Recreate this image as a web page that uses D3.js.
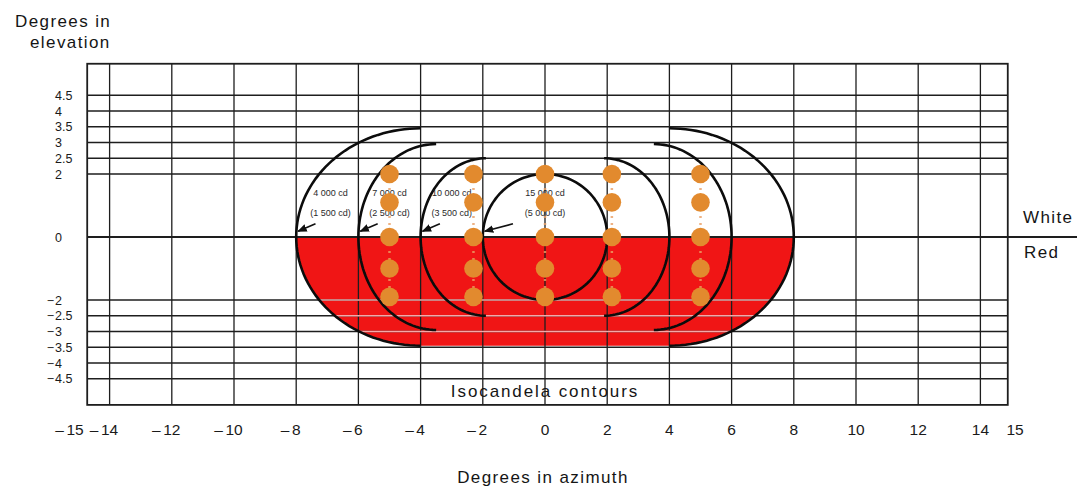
<!DOCTYPE html>
<html>
<head>
<meta charset="utf-8">
<script src="https://cdn.jsdelivr.net/npm/d3@7"></script>
<style>
  body { margin: 0; background: #fff; }
  svg { display: block; font-family: "Liberation Sans", Arial, sans-serif; }
</style>
</head>
<body>
<div id="chart"></div>
<script>
// chart data
var azimuthTicks = [-15, -14, -12, -10, -8, -6, -4, -2, 0, 2, 4, 6, 8, 10, 12, 14, 15];
var azimuthGrid = [-14, -12, -10, -8, -6, -4, -2, 0, 2, 4, 6, 8, 10, 12, 14];
var elevationTicks = [4.5, 4, 3.5, 3, 2.5, 2, 0, -2, -2.5, -3, -3.5, -4, -4.5];

// isocandela contours: white intensity, red intensity, half-shape centre and radii (degrees)
var whiteLevels = ["4 000 cd", "7 000 cd", "10 000 cd", "15 000 cd"];
var redLevels = ["(1 500 cd)", "(2 500 cd)", "(3 500 cd)", "(5 000 cd)"];
var contourCentre = [4, 3.5, 1.9, 0];
var contourRx = [4, 2.5, 2.1, 2];
var contourRy = [3.45, 2.95, 2.5, 2];
var labelAzimuth = [-6.9, -5.0, -3.0, 0];

// measuring points (orange dots)
var dotAzimuth = [-5, -2.3, 0, 2.15, 5];
var dotElevation = [2, 1.1, 0, -1, -1.9];

var svgWidth = 1077;
var svgHeight = 488;

var svg = d3.select("#chart")
  .append("svg")
  .attr("width", svgWidth)
  .attr("height", svgHeight);

// scales (degrees -> pixels)
var x = d3.scaleLinear().domain([-15, 15]).range([78.5, 1011.5]);
var y = d3.scaleLinear().domain([-5.5, 5.5]).range([410.25, 63.75]);

var frame = { left: -14.72, right: 14.88, top: 5.5, bottom: -5.33 };

var line = d3.line().x(d => x(d[0])).y(d => y(d[1]));

// half of a contour: side -1 = left arc, +1 = right arc
function halfArc(i, side, t0, t1) {
  return d3.range(0, 73).map(function(k) {
    var t = t0 + (t1 - t0) * k / 72;
    return [side * (contourCentre[i] + contourRx[i] * Math.cos(t)), contourRy[i] * Math.sin(t)];
  });
}

// red sector = lower half of the outer contour
var redPts = halfArc(0, -1, 0, -Math.PI / 2).concat(halfArc(0, 1, -Math.PI / 2, 0));

var defs = svg.append("defs");
defs.append("clipPath").attr("id", "redClip")
  .append("path").attr("d", line(redPts) + "Z");
defs.append("marker")
  .attr("id", "arrow")
  .attr("viewBox", "0 0 10 10")
  .attr("refX", 9).attr("refY", 5)
  .attr("markerWidth", 6).attr("markerHeight", 6)
  .attr("orient", "auto")
  .append("path").attr("d", "M0,1 L10,5 L0,9 Z").attr("fill", "#111");

svg.append("path")
  .attr("d", line(redPts) + "Z")
  .attr("fill", "#f01515");

// grid
var grid = svg.append("g").attr("stroke", "#1e1e1e");

grid.selectAll(".vline")
  .data(azimuthGrid)
  .enter()
  .append("line")
  .attr("x1", d => x(d)).attr("x2", d => x(d))
  .attr("y1", y(frame.top)).attr("y2", y(frame.bottom))
  .attr("stroke-width", 1.3);

grid.selectAll(".hline")
  .data(elevationTicks)
  .enter()
  .append("line")
  .attr("x1", x(frame.left))
  .attr("x2", d => d === 0 ? svgWidth : x(frame.right))
  .attr("y1", d => y(d)).attr("y2", d => y(d))
  .attr("stroke-width", d => d === 0 ? 2 : 1.4);

// grid lines show pale through the red
svg.append("g")
  .attr("clip-path", "url(#redClip)")
  .selectAll("line")
  .data(elevationTicks.filter(d => d < 0))
  .enter()
  .append("line")
  .attr("x1", x(frame.left)).attr("x2", x(frame.right))
  .attr("y1", d => y(d)).attr("y2", d => y(d))
  .attr("stroke", "#f4a9a9")
  .attr("stroke-width", 1.6);

svg.append("rect")
  .attr("x", x(frame.left))
  .attr("y", y(frame.top))
  .attr("width", x(frame.right) - x(frame.left))
  .attr("height", y(frame.bottom) - y(frame.top))
  .attr("fill", "none")
  .attr("stroke", "#1e1e1e")
  .attr("stroke-width", 1.8);

// contour arcs
var arcs = svg.append("g")
  .attr("fill", "none")
  .attr("stroke", "#0c0c0c")
  .attr("stroke-width", 2.6);

whiteLevels.forEach(function(level, i) {
  arcs.append("path").attr("d", line(halfArc(i, -1, -Math.PI / 2, Math.PI / 2)));
  arcs.append("path").attr("d", line(halfArc(i, 1, -Math.PI / 2, Math.PI / 2)));
});

// contour labels
var labels = svg.append("g")
  .attr("font-size", 9)
  .attr("fill", "#2a2a2a")
  .attr("text-anchor", "middle");

labels.selectAll(".white")
  .data(whiteLevels)
  .enter()
  .append("text")
  .attr("x", (d, i) => x(labelAzimuth[i]))
  .attr("y", y(1.4) + 3)
  .text(d => d);

labels.selectAll(".red")
  .data(redLevels)
  .enter()
  .append("text")
  .attr("x", (d, i) => x(labelAzimuth[i]))
  .attr("y", y(0.76) + 3)
  .text(d => d);

// arrows from the labels to the left arcs
svg.append("g")
  .selectAll("line")
  .data(whiteLevels)
  .enter()
  .append("line")
  .attr("x1", (d, i) => x(-(contourCentre[i] + contourRx[i]) + 0.62 + (i === 3 ? 0.35 : 0)))
  .attr("y1", y(0.42))
  .attr("x2", (d, i) => x(-(contourCentre[i] + contourRx[i]) + 0.06))
  .attr("y2", y(0.18))
  .attr("stroke", "#111")
  .attr("stroke-width", 1.6)
  .attr("marker-end", "url(#arrow)");

// measuring points
var dots = svg.append("g");

dots.selectAll(".stem")
  .data(dotAzimuth)
  .enter()
  .append("line")
  .attr("x1", d => x(d)).attr("x2", d => x(d))
  .attr("y1", y(dotElevation[0])).attr("y2", y(dotElevation[dotElevation.length - 1]))
  .attr("stroke", "#eaa066")
  .attr("stroke-width", 2.5)
  .attr("stroke-dasharray", "2 5")
  .attr("opacity", 0.8);

dotAzimuth.forEach(function(az) {
  dots.selectAll(null)
    .data(dotElevation)
    .enter()
    .append("circle")
    .attr("cx", x(az))
    .attr("cy", d => y(d))
    .attr("r", 9.3)
    .attr("fill", "#e28a2e");
});

// tick labels: digits centred on the grid line, minus sign hung to the left
var tickSize = 15.5;
function tickX(d) {
  var shift = Math.abs(d) === 15 ? 3.5 * Math.sign(d) : 0;
  return x(d) + shift;
}

var xLabels = svg.append("g")
  .attr("font-size", tickSize)
  .attr("fill", "#1a1a1a");

xLabels.selectAll(".xnum")
  .data(azimuthTicks)
  .enter()
  .append("text")
  .attr("x", d => tickX(d))
  .attr("y", 435)
  .attr("text-anchor", "middle")
  .text(d => Math.abs(d));

xLabels.selectAll(".xminus")
  .data(azimuthTicks.filter(d => d < 0))
  .enter()
  .append("text")
  .attr("x", d => tickX(d) - String(Math.abs(d)).length * tickSize * 0.278 - 2.5)
  .attr("y", 435)
  .attr("text-anchor", "end")
  .text("\u2013");

var yLabels = svg.append("g")
  .attr("font-size", 12.5)
  .attr("fill", "#1a1a1a");

yLabels.selectAll(".ynum")
  .data(elevationTicks)
  .enter()
  .append("text")
  .attr("x", 55)
  .attr("y", d => y(d) + 4.5)
  .text(d => Math.abs(d));

yLabels.selectAll(".yminus")
  .data(elevationTicks.filter(d => d < 0))
  .enter()
  .append("text")
  .attr("x", 54)
  .attr("y", d => y(d) + 4.5)
  .attr("text-anchor", "end")
  .text("\u2212");

// titles
var titles = svg.append("g")
  .attr("font-size", 17)
  .attr("letter-spacing", 1.4)
  .attr("fill", "#151515");

titles.append("text").attr("x", 15).attr("y", 27).text("Degrees in");
titles.append("text").attr("x", 30).attr("y", 48).text("elevation");
titles.append("text").attr("x", 543).attr("y", 483).attr("text-anchor", "middle").text("Degrees in azimuth");
titles.append("text").attr("x", x(0)).attr("y", 397).attr("text-anchor", "middle").attr("letter-spacing", 1.9).text("Isocandela contours");
titles.append("text").attr("x", 1023).attr("y", 223).text("White");
titles.append("text").attr("x", 1024).attr("y", 258).text("Red");
</script>
</body>
</html>
